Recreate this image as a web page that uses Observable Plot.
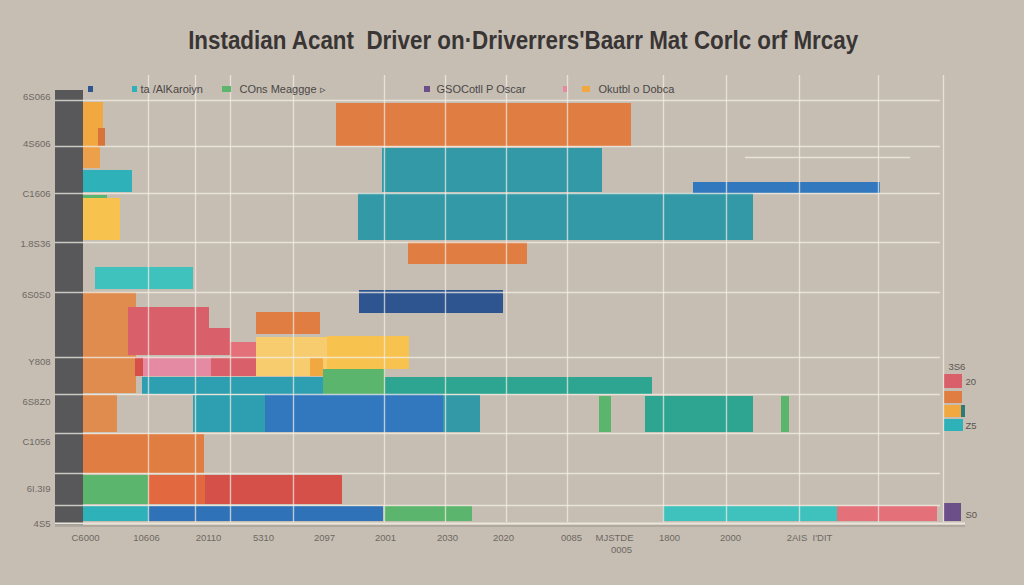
<!DOCTYPE html>
<html>
<head>
<meta charset="utf-8">
<script src="https://cdn.jsdelivr.net/npm/d3@7"></script>
<script src="https://cdn.jsdelivr.net/npm/@observablehq/plot@0.6"></script>
<style>
  html, body { margin: 0; padding: 0; background: #c6beb3; width: 1024px; height: 585px; overflow: hidden; }
  #title { height: 70px; box-sizing: border-box; padding-top: 27px; text-align: center; }
  #title span { display: inline-block; font-family: "Liberation Sans", Arial, sans-serif; font-weight: bold; font-size: 26px; line-height: 26px; color: #3a3535; white-space: nowrap; transform-origin: center; position: relative; left: 11px; }
  #chart svg { display: block; }
</style>
</head>
<body>
<div id="title"><span>Instadian Acant&nbsp; Driver on·Driverrers'Baarr Mat Corlc orf Mrcay</span></div>
<div id="chart"></div>
<script>
// ---------- data ----------
const seriesNames  = ["slate","amber","rust","apricot","aqua","leaf","gold","turquoise","tangerine","petrol","navy","azure","clay","rose","coral","crimson","blush","wheat","sea","jade","vermilion","cobalt","plum","deepteal"];
const seriesColors = ["#58585a","#f2a840","#d8743a","#eda04a","#2fb1b9","#5bb56c","#f8c24f","#3fc2bd","#e07d42","#3399a6","#2e5590","#3278bf","#e08c4e","#d9606a","#e4717a","#d6504a","#e48aa2","#f7cc6e","#2e9fb0","#2ea590","#e2683f","#2f72b8","#6c4e88","#2d7a7a"];

const barSeries = ["slate","amber","rust","apricot","aqua","leaf","gold","turquoise","tangerine","petrol","petrol","tangerine","navy","azure","clay","rose","rose","coral","tangerine","crimson","blush","rose","wheat","gold","amber","sea","jade","leaf","clay","sea","azure","petrol","leaf","jade","leaf","tangerine","leaf","vermilion","crimson","aqua","cobalt","leaf","turquoise","coral","plum","rose","tangerine","amber","deepteal","aqua"];
const barStart  = [-5.6,0,3,0,0,0,0,2.4,50.6,59.8,55,65,55.2,122,0,9,25.2,29.4,34.6,10.4,12,25.6,34.6,48.8,45.4,11.8,60.4,48,0,22,36.4,72,103.2,112.4,139.6,0,0,13,24.4,0,13,60.2,116,150.8,172.2,172.2,172.2,172.2,175.6,172.2];
const barEnd    = [0,4,4.4,3.4,9.8,4.8,7.4,22,109.6,103.8,134,88.8,84,159.4,10.6,25.2,29.4,34.6,47.4,12,25.6,34.6,48.8,65.2,48,60.4,113.8,60.4,6.8,36.4,72,79.4,105.6,134,141.2,24.2,13,24.4,51.8,13,60,77.8,150.8,170.8,175.6,175.8,175.8,175.8,176.4,176];
const barHigh   = [86.4,84,78.8,75.2,70.4,65.4,64.8,51,83.8,74.8,65.8,56,46.4,68,46,43,38.8,36,42,33,33,33,37,37.2,32.8,29,29,30.6,25.4,25.4,25.6,25.4,25.2,25.2,25.2,17.6,9.4,9.4,9.4,3.2,3.2,3.2,3.2,3.2,3.8,29.6,26.2,23.4,23.4,20.6];
const barLow    = [-0.6,75.2,75.2,70.8,66,64.8,56.4,46.6,75.2,66,56.4,51.6,41.8,65.8,25.8,33.4,33.4,33,37.6,29.2,29.2,29.2,29.2,30.6,29.2,25.6,25.6,25.6,18,18,18,18,18,18,18,9.8,3.6,3.6,3.6,0.2,0.2,0.2,0.2,0.2,0.2,26.8,23.8,21,21,18.2];

const yTickValues = [85.2,75.8,65.8,55.8,45.6,32.2,24.2,16.2,6.8,-0.2];
const yTickLabels = ["6S066","4S606","C1606","1.8S36","6S0S0","Y808","6S8Z0","C1056","6I.3I9","4S5"];
const xTickValues = [0.4,12.6,25,36,48.2,60.4,72.8,84,97.6,106.2,117.2,129.4,145.2];
const xTickLabels = ["C6000","10606","20110","5310","2097","2001","2030","2020","0085","MJSTDE","1800","2000","2AIS  I'DIT"];
const xTick2Value = [107.6];
const xTick2Label = ["0005"];

const gridY = [84.4,75.2,65.8,56,46,33,25.6,17.8,9.8,3.4];
const gridX = [13,22.4,29.4,42,60.2,72.4,84.6,96.8,116,128.6,143.2,159,172];

const legendLabels = ["ta /AlKaroiyn","COns Meaggge ▹","GSOCotll P Oscar","Okutbl o Dobca"];
const legendKeySeries = ["navy","aqua","leaf","plum","blush","amber"];

const sideLabels = ["3S6","20","Z5","S0"];
const sideValues = [31.2,28.2,19.4,1.6];

// ---------- build ----------
const bars = barSeries.map((s, i) => ({s, x1: barStart[i], x2: barEnd[i], y1: barLow[i], y2: barHigh[i]}));
const legendKeyX1 = [1,9.8,27.8,68.2,96,99.8];
const legendKeyX2 = [2,10.8,29.6,69.4,96.8,101.4];
const legendKeys = legendKeySeries.map((s, i) => ({s, x1: legendKeyX1[i], x2: legendKeyX2[i]}));
const legendTextX = [11.4,31.2,70.6,103];
const legendY = 86.6;

const labelFont = "Liberation Sans, Arial, sans-serif";
const chart = Plot.plot({
  width: 1024,
  height: 515,
  marginLeft: 83,
  marginRight: 84,
  marginTop: 30,
  marginBottom: 63,
  style: {background: "transparent", fontFamily: labelFont},
  x: {domain: [0, 171.4], axis: null},
  y: {domain: [0, 84.4], axis: null},
  color: {domain: seriesNames, range: seriesColors},
  marks: [
    Plot.rect(bars, {x1: "x1", x2: "x2", y1: "y1", y2: "y2", fill: "s"}),
    // gridlines over bars
    Plot.ruleY(gridY, {x1: -5.6, x2: 171.4, stroke: "#f3eee6", strokeWidth: 1.6, strokeOpacity: 0.75}),
    Plot.ruleY([73], {x1: 132.4, x2: 165.4, stroke: "#f3eee6", strokeWidth: 1.6, strokeOpacity: 0.75}),
    Plot.ruleX(gridX, {y1: 0, y2: 89.4, stroke: "#f3eee6", strokeWidth: 1.4, strokeOpacity: 0.7}),
    // baseline
    Plot.ruleY([-0.2], {x1: -5.6, x2: 176.4, stroke: "#ebe5db", strokeWidth: 2}),
    Plot.ruleY([-0.7], {x1: -5.6, x2: 176.4, stroke: "#9a948c", strokeWidth: 1}),
    // legend keys
    Plot.rect(legendKeys, {x1: "x1", x2: "x2", y1: legendY - 0.6, y2: legendY + 0.6, fill: "s"}),
    Plot.text(legendLabels, {x: (d, i) => legendTextX[i], y: legendY, text: d => d, textAnchor: "start", fontSize: 11, fill: "#4a4746"}),
    // y tick labels
    Plot.text(yTickLabels, {x: -6.6, y: (d, i) => yTickValues[i], text: d => d, textAnchor: "end", fontSize: 9.5, fill: "#6d6862"}),
    // x tick labels
    Plot.text(xTickLabels, {x: (d, i) => xTickValues[i], y: -3, text: d => d, fontSize: 9.5, fill: "#6d6862"}),
    Plot.text(xTick2Label, {x: (d, i) => xTick2Value[i], y: -5.4, text: d => d, fontSize: 9.5, fill: "#6d6862"}),
    // side labels
    Plot.text(sideLabels, {x: (d, i) => i === 0 ? 173 : 176.4, y: (d, i) => sideValues[i], text: d => d, textAnchor: "start", fontSize: 9.5, fill: "#5a5550"})
  ]
});
document.getElementById("chart").appendChild(chart);

// fit the title to its width in the reference
const span = document.querySelector("#title span");
const w = span.getBoundingClientRect().width;
span.style.transform = `scaleX(${670 / w})`;
</script>
</body>
</html>
